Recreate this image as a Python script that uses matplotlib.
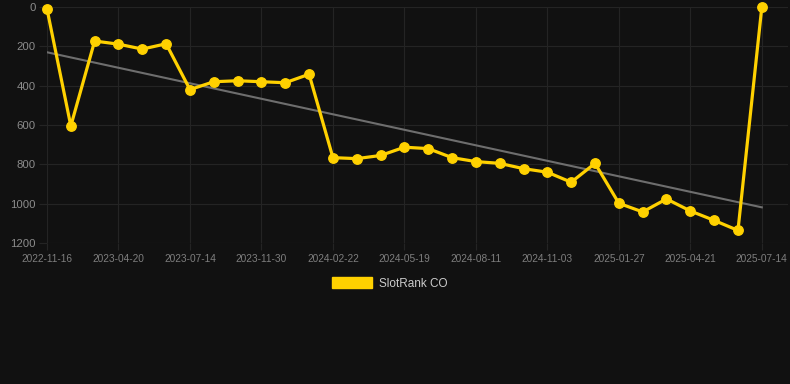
import numpy as np
import matplotlib.pyplot as plt

plt.rcParams['font.family'] = ['Liberation Sans', 'DejaVu Sans']

# rank per observation (lower is better), one value every ~4 weeks
ranks = [10, 605, 173, 189, 214, 187, 420, 380, 375, 380, 385, 342,
         766, 771, 755, 713, 720, 766, 786, 795, 822, 840, 891, 795,
         998, 1042, 976, 1037, 1085, 1136, 2]
tick_labels = ['2022-11-16', '2023-04-20', '2023-07-14', '2023-11-30',
               '2024-02-22', '2024-05-19', '2024-08-11', '2024-11-03',
               '2025-01-27', '2025-04-21', '2025-07-14']
series_name = 'SlotRank CO'

bg = '#111111'
grid = '#242424'
yellow = '#FFD100'

x = np.arange(len(ranks))
fig = plt.figure(figsize=(7.9, 3.84), dpi=100, facecolor=bg)
ax = fig.add_axes([47 / 790, 1 - 243 / 384, 741 / 790, 236 / 384])
ax.set_facecolor(bg)

# trend line
k, b = np.polyfit(x, ranks, 1)
ax.plot(x, k * x + b, color='#6e6e6e', lw=1.5, zorder=2)

ax.plot(x, ranks, color=yellow, lw=2.3, marker='o', ms=6.8,
        label=series_name, zorder=3, clip_on=False)

ax.set_ylim(1200, 0)
ax.set_xlim(0, 31.1)
ax.set_yticks([0, 200, 400, 600, 800, 1000, 1200])
ax.set_xticks(x[::3])
ax.set_xticklabels(tick_labels)
ax.grid(True, color=grid, lw=0.8)
for s in ax.spines.values():
    s.set_visible(False)
ax.tick_params(axis='y', colors=grid, length=6, width=0.8, pad=2,
               labelcolor='#8c8c8c', labelsize=8.2)
ax.tick_params(axis='x', colors=grid, length=5, width=0.8, pad=3,
               labelcolor='#7e7e7e', labelsize=7.3)

leg = fig.legend(handles=[plt.Rectangle((0, 0), 1, 1, color=yellow)],
                 labels=[series_name], loc='center',
                 bbox_to_anchor=(0.4937, 1 - 283.5 / 384), frameon=False,
                 handlelength=3.4, handleheight=0.98, fontsize=8.5,
                 labelcolor='#cccccc', handletextpad=0.57)

fig.savefig('out.png', dpi=100, facecolor=bg)
